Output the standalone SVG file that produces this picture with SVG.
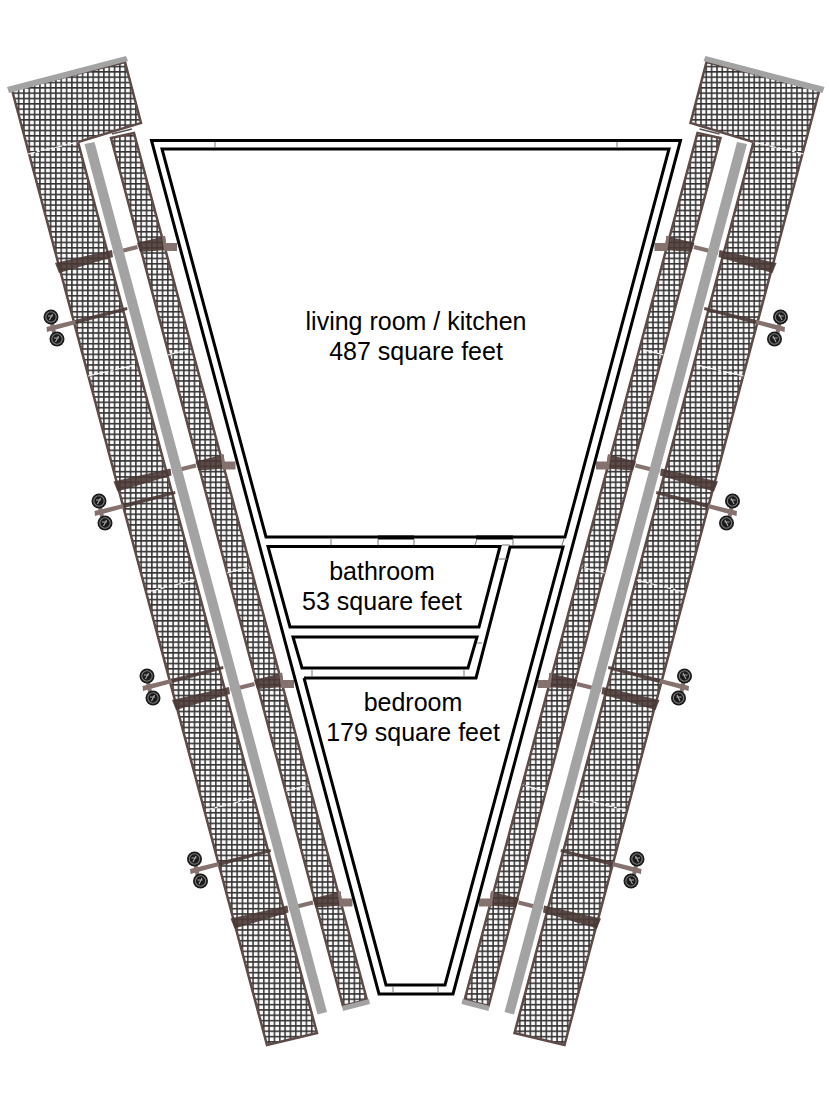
<svg xmlns="http://www.w3.org/2000/svg" width="829" height="1100" viewBox="0 0 829 1100">
<style>
.panel{fill:url(#mesh);stroke:#5e4b48;stroke-width:2.500;stroke-linejoin:miter}
.cap{fill:#a3a3a3;stroke:none}
.seam{stroke:#f4f4f4;stroke-width:1.2;stroke-dasharray:7 2 3 2;fill:none}
.dark{fill:#4a3835;fill-opacity:.9}
.light{fill:#85726f}
.wall{fill:none;stroke:#000;stroke-width:3;stroke-linejoin:miter}
.tick{stroke:#777;stroke-width:1;fill:none}
.label{font-family:"Liberation Sans",Arial,sans-serif;font-size:25px;fill:#000;text-anchor:middle}
</style>
<defs>
<pattern id="mesh" patternUnits="userSpaceOnUse" x="0" y="0" width="5.33" height="5.33">
<rect width="5.33" height="5.33" fill="#fafafa"/>
<path d="M2.6 0V5.33M0 2.6H5.33" stroke="#333" stroke-width="1.5" fill="none"/>
</pattern>
<g id="strutA">
<polygon class="dark" points="55,263 59,273 113,257 112,250"/>
<polygon class="light" points="113,251 137,245 138,249 114,255"/>
<polygon class="dark" points="137,243 165,236 167,250 140,252"/>
<rect class="light" x="165" y="243" width="12" height="8"/>
<rect class="light" x="163" y="236" width="3" height="15" transform="rotate(-8 164 243)"/>
</g>
<g id="wheel">
<circle r="7.500" fill="#1a1a1a"/>
<circle r="5.200" fill="none" stroke="#7d7d7d" stroke-width="1.1"/>
<path d="M-1.500 3L1.500-3M-3-1H2" stroke="#aaa" stroke-width="1.1" fill="none"/>
</g>
<g id="strutB">
<polygon class="light" points="46.500,327 75,320 76,324 47,332"/>
<polygon class="dark" points="75,320 127,307 127.500,310 76,324"/>
<rect class="light" x="51" y="322" width="4" height="12" transform="rotate(-12 53 328)"/>
<use href="#wheel" x="51" y="317"/>
<use href="#wheel" x="57" y="339"/>
</g>
<g id="wing">
<polygon class="panel" points="12,90 125,62 141,123 78,142 317,1033 267,1045"/>
<polygon class="panel" points="111,138 134,133 367,1000 343,1006"/>
<polygon class="cap" points="7,87 126,56 128,61 9,93"/>
<polygon class="cap" points="342,1006 369,999 370,1004 343,1011"/>
<path d="M112 134L132 129" stroke="#555" stroke-width="1.5" fill="none"/>
<path class="seam" d="M28 154L78 142M88 376L135 365M168 355L190 349M147 592L195 580M227 573L250 567M206 810L254 798M286 791L309 785"/>
<use href="#strutA"/>
<use href="#strutA" x="58.500" y="218.500"/>
<use href="#strutA" x="117" y="437"/>
<use href="#strutA" x="175.500" y="655.500"/>
<use href="#strutB"/>
<use href="#strutB" x="48" y="184"/>
<use href="#strutB" x="96" y="359"/>
<use href="#strutB" x="143.500" y="542"/>
<polygon class="cap" points="84.500,144 94.500,142 327,1012 317.500,1014.500"/>
</g>
</defs>
<g id="left-wing"><use href="#wing"/></g>
<g id="right-wing"><use href="#wing" transform="matrix(-1 0 0 1 831.500 0)"/></g>
<g id="walls">
<polygon class="wall" points="151.500,140.500 680.500,140.500 453,994 379,994"/>
<polygon class="wall" points="162,149 669,149 565,537 266,537"/>
<polygon class="wall" points="268,546.500 500,546.500 479,627 290,627"/>
<polygon class="wall" points="293,637 477,637 468,668 302,668"/>
<polyline class="wall" points="304,678 476,678 510,547 563,547 445,985 386,985 304,678"/>
<path d="M378 537.500H414M476 537.500H513" stroke="#000" stroke-width="4" fill="none"/>
<path class="tick" d="M215 142V147M617 142V147M331 539V545M378 539V545M414 539V545M477 539L475 545M513 539V545M564 539L562 545M502 545H510M498 559H507M477 643H482M312 670V676M464 670V676M393 987V992M438 987V992"/>
</g>
<g id="labels">
<text class="label" x="416" y="330">living room / kitchen</text>
<text class="label" x="416" y="360">487 square feet</text>
<text class="label" x="382" y="580">bathroom</text>
<text class="label" x="382" y="610">53 square feet</text>
<text class="label" x="413" y="711">bedroom</text>
<text class="label" x="413" y="741">179 square feet</text>
</g>
</svg>
